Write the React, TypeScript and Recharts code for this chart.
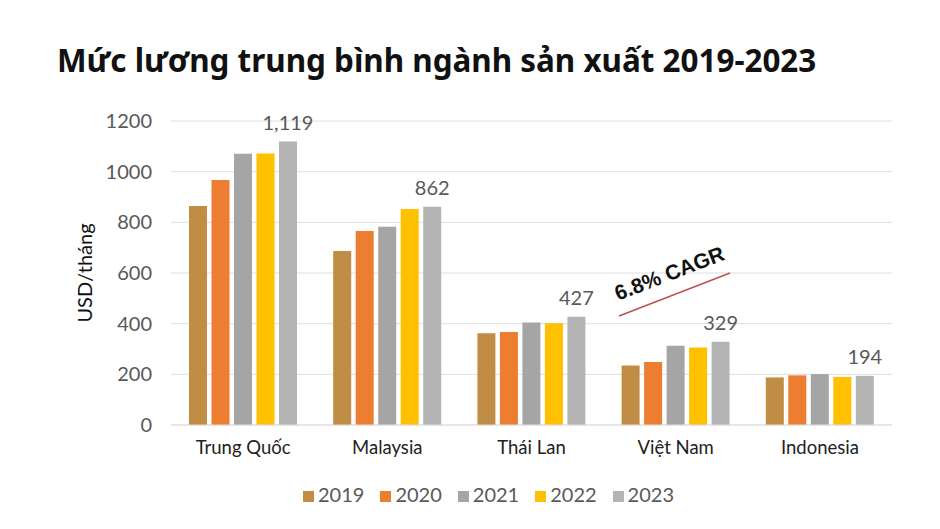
import React from "react";
import { BarChart, Bar, XAxis, YAxis, CartesianGrid, Legend, LabelList } from "recharts";

const countries = ["Trung Quốc", "Malaysia", "Thái Lan", "Việt Nam", "Indonesia"];
const y2019 = [864, 687, 362, 235, 188];
const y2020 = [967, 766, 367, 249, 196];
const y2021 = [1071, 783, 405, 313, 201];
const y2022 = [1072, 853, 402, 306, 190];
const y2023 = [1119, 862, 427, 329, 194];
const yTicks = [0, 200, 400, 600, 800, 1000, 1200];

const series = [
  { key: "y2019", name: "2019", color: "#C18C43" },
  { key: "y2020", name: "2020", color: "#ED7D31" },
  { key: "y2021", name: "2021", color: "#A5A5A5" },
  { key: "y2022", name: "2022", color: "#FFC000" },
  { key: "y2023", name: "2023", color: "#B4B4B4" },
];

const data = countries.map((name, i) => ({
  name,
  y2019: y2019[i],
  y2020: y2020[i],
  y2021: y2021[i],
  y2022: y2022[i],
  y2023: y2023[i],
}));

const font = "Lato, 'Noto Sans', sans-serif";

export default function App() {
  return (
    <div style={{ position: "absolute", left: 0, top: 0, width: 940, height: 529, background: "#fff", fontFamily: font }}>
      <div
        style={{
          position: "absolute",
          left: 57,
          top: 40,
          fontFamily: "'Noto Sans', sans-serif",
          fontWeight: 700,
          fontSize: 31.4,
          lineHeight: "40px",
          color: "#111",
          whiteSpace: "nowrap",
        }}
      >
        Mức lương trung bình ngành sản xuất 2019-2023
      </div>
      <BarChart
        width={940}
        height={529}
        data={data}
        margin={{ top: 121, right: 48, left: 101, bottom: 35 }}
        barCategoryGap={18}
        barGap={4.5}
      >
        <CartesianGrid vertical={false} stroke="#dedede" />
        <XAxis
          dataKey="name"
          axisLine={{ stroke: "#dedede" }}
          tickLine={false}
          tickSize={0}
          tickMargin={16}
          height={45}
          tick={{ fill: "#222", fontSize: 18.5, fontFamily: font }}
        />
        <YAxis
          domain={[0, 1200]}
          ticks={yTicks}
          axisLine={false}
          tickLine={false}
          tickSize={0}
          tickMargin={19}
          width={70}
          tick={{ fill: "#595959", fontSize: 20, fontFamily: font }}
          label={{
            value: "USD/tháng",
            angle: -90,
            position: "left",
            offset: 16,
            fontSize: 20,
            fill: "#111",
            fontFamily: font,
            textAnchor: "middle",
          }}
        />
        <Legend
          verticalAlign="bottom"
          align="center"
          iconType="square"
          iconSize={11}
          wrapperStyle={{ fontSize: 20, fontFamily: font, bottom: 23 }}
          formatter={(value: string) => (
            <span style={{ color: "#595959", marginRight: 6 }}>{value}</span>
          )}
        />
        {series.map((s) => (
          <Bar key={s.key} dataKey={s.key} name={s.name} fill={s.color} isAnimationActive={false}>
            {s.key === "y2023" ? (
              <LabelList
                dataKey={s.key}
                position="top"
                offset={12}
                formatter={(v: number) => v.toLocaleString("en-US")}
                fill="#595959"
                fontSize={20}
                fontFamily={font}
              />
            ) : null}
          </Bar>
        ))}
      </BarChart>
      <svg style={{ position: "absolute", left: 0, top: 0, pointerEvents: "none" }} width={940} height={529}>
        <line x1={619} y1={316} x2={730} y2={273} stroke="#C0504D" strokeWidth={1.5} />
        <text
          x={672}
          y={280}
          transform="rotate(-21 672 280)"
          textAnchor="middle"
          style={{ fontFamily: "'Liberation Sans', Arial, sans-serif", fontWeight: 700, fontSize: 21, fill: "#111" }}
        >
          6.8% CAGR
        </text>
      </svg>
    </div>
  );
}
